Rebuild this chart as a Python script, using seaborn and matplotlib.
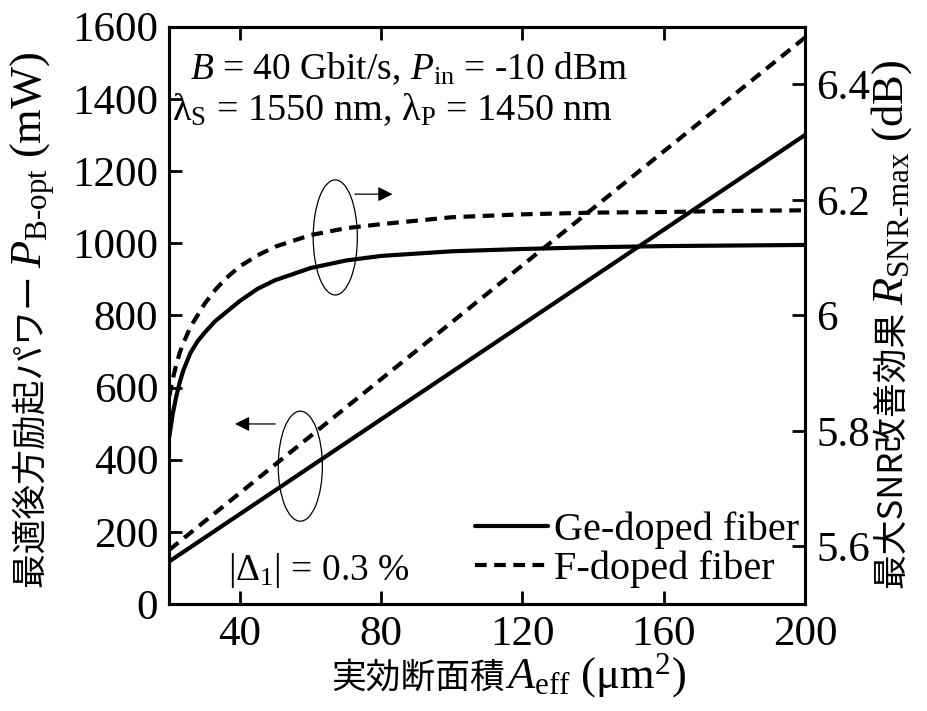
import numpy as np
import pandas as pd
import matplotlib
matplotlib.use("Agg")
import matplotlib.pyplot as plt
import seaborn as sns
from matplotlib.patches import Ellipse
from matplotlib.lines import Line2D

# ---------------- data ----------------
aeff_pump = [20, 200]
ge_pump = [118, 1300]          # mW (left axis)
f_pump = [150, 1570]           # mW (left axis)

aeff_snr = [20, 21, 22, 23, 24, 26, 28, 30, 33, 36, 40, 45, 50, 60, 70, 80,
            100, 120, 140, 160, 180, 200]
ge_snr = [5.79, 5.83, 5.86, 5.885, 5.905, 5.935, 5.955, 5.97, 5.99, 6.005, 6.025,
          6.046, 6.061, 6.082, 6.095, 6.103, 6.111, 6.115, 6.118, 6.120, 6.121, 6.122]
f_snr = [5.86, 5.89, 5.915, 5.936, 5.952, 5.98, 6.0, 6.02, 6.044, 6.064, 6.085,
         6.104, 6.119, 6.139, 6.151, 6.158, 6.170, 6.175, 6.178, 6.179, 6.181, 6.182]

x_ticks = [40, 80, 120, 160, 200]
left_ticks = [0, 200, 400, 600, 800, 1000, 1200, 1400, 1600]
right_ticks = [5.6, 5.8, 6.0, 6.2, 6.4]
right_ticklabels = ["5.6", "5.8", "6", "6.2", "6.4"]
legend_labels = ["Ge-doped fiber", "F-doped fiber"]

# ---------------- style ----------------
sns.set_style("ticks")
plt.rcParams["font.family"] = ["Liberation Serif", "Noto Sans CJK JP"]
plt.rcParams["mathtext.fontset"] = "custom"
plt.rcParams["mathtext.rm"] = "Liberation Serif"
plt.rcParams["mathtext.it"] = "Liberation Serif:italic"
plt.rcParams["mathtext.bf"] = "Liberation Serif:bold"
plt.rcParams["text.color"] = "black"
plt.rcParams["xtick.color"] = "black"
plt.rcParams["ytick.color"] = "black"
plt.rcParams["xtick.labelcolor"] = "black"
plt.rcParams["ytick.labelcolor"] = "black"

FS_TICK = 31
FS_LEG = 29
FS_ANN = 27
FS_CJK = 25
FS_SER = 32
LW = 3.0
DASH = (0, (2.8, 1.8))

fig = plt.figure(figsize=(9.27, 7.11), dpi=100)
ax = fig.add_axes([0.1826, 0.1505, 0.8684 - 0.1826, 0.9624 - 0.1505])
ax2 = ax.twinx()

df_pump = pd.DataFrame({"A": aeff_pump, "Ge": ge_pump, "F": f_pump})
df_snr = pd.DataFrame({"A": aeff_snr, "Ge": ge_snr, "F": f_snr})

sns.lineplot(data=df_pump, x="A", y="Ge", ax=ax, color="black", lw=LW)
sns.lineplot(data=df_pump, x="A", y="F", ax=ax, color="black", lw=LW, linestyle=DASH)
sns.lineplot(data=df_snr, x="A", y="Ge", ax=ax2, color="black", lw=LW)
sns.lineplot(data=df_snr, x="A", y="F", ax=ax2, color="black", lw=LW, linestyle=DASH)

ax.set_xlim(20, 200)
ax.set_ylim(0, 1600)
ax2.set_ylim(5.5, 6.5)

ax.set_xticks(x_ticks)
ax.set_yticks(left_ticks)
ax2.set_yticks(right_ticks)
ax2.set_yticklabels(right_ticklabels)

for a in (ax, ax2):
    for s in a.spines.values():
        s.set_linewidth(2.2)
        s.set_visible(True)
        s.set_color("black")

ax.tick_params(axis="both", direction="in", length=9.5, width=2.0,
               labelsize=FS_TICK, pad=8, top=True, right=False,
               labelfontfamily="Liberation Serif", colors="black")
ax2.tick_params(axis="y", direction="in", length=9.5, width=2.0,
                labelsize=FS_TICK, pad=8, labelfontfamily="Liberation Serif",
                colors="black")

ax.set_xlabel("")
ax.set_ylabel("")
ax2.set_ylabel("")

# ---- axis labels: CJK part + serif math part joined on a common baseline ----
def split_label(x, y, cjk, ser, rot):
    fig.text(x, y, cjk, fontsize=FS_CJK, family="Noto Sans CJK JP",
             ha="right", va="baseline", rotation=rot, rotation_mode="anchor")
    fig.text(x, y, ser, fontsize=FS_SER, family="Liberation Serif",
             ha="left", va="baseline", rotation=rot, rotation_mode="anchor")

split_label(505 / 927, 1 - 688 / 711, "実効断面積",
            r"$\mathit{A}_{\mathrm{eff}}\ \mathrm{(\mu m^{2})}$", 0)
split_label(42 / 927, 1 - 268 / 711, "最適後方励起パワー ",
            r"$\mathit{P}_{\mathrm{B‐opt}}\ \mathrm{(mW)}$", 90)
split_label(903 / 927, 1 - 305 / 711, "最大SNR改善効果 ",
            r"$\mathit{R}_{\mathrm{SNR‐max}}\ \mathrm{(dB)}$", 90)

# annotations
ax.text(26, 1455, r"$\mathit{B}$ = 40 Gbit/s, $\mathit{P}_{\mathrm{in}}$ = -10 dBm",
        fontsize=FS_ANN, family="Liberation Serif", ha="left", va="baseline")
ax.text(20.8, 1340, r"$\mathrm{\lambda}_{\mathrm{S}}$ = 1550 nm, $\mathrm{\lambda}_{\mathrm{P}}$ = 1450 nm",
        fontsize=FS_ANN + 0.5, family="Liberation Serif", ha="left", va="baseline")
ax.text(36.7, 66, r"|$\mathrm{\Delta}_{1}$| = 0.3 %",
        fontsize=FS_ANN, family="Liberation Serif", ha="left", va="baseline")

ax.add_patch(Ellipse((67.0, 1016), 12.5, 319, fill=False, lw=0.9, ec="black"))
ax.annotate("", xy=(84.0, 1136), xytext=(71.8, 1136),
            arrowprops=dict(arrowstyle="-|>", lw=0.9, color="black", mutation_scale=22))
ax.add_patch(Ellipse((57.1, 382), 12.5, 305, fill=False, lw=0.9, ec="black"))
ax.annotate("", xy=(37.8, 499), xytext=(50.8, 499),
            arrowprops=dict(arrowstyle="-|>", lw=0.9, color="black", mutation_scale=22))

handles = [Line2D([], [], color="black", lw=LW),
           Line2D([], [], color="black", lw=LW, linestyle=DASH)]
ax.legend(handles, legend_labels, loc="lower right", bbox_to_anchor=(1.035, -0.022),
          frameon=False, fontsize=FS_LEG, handlelength=1.8, handletextpad=0.15,
          labelspacing=0.05, borderpad=0.2)

fig.savefig("out.png", dpi=100)
